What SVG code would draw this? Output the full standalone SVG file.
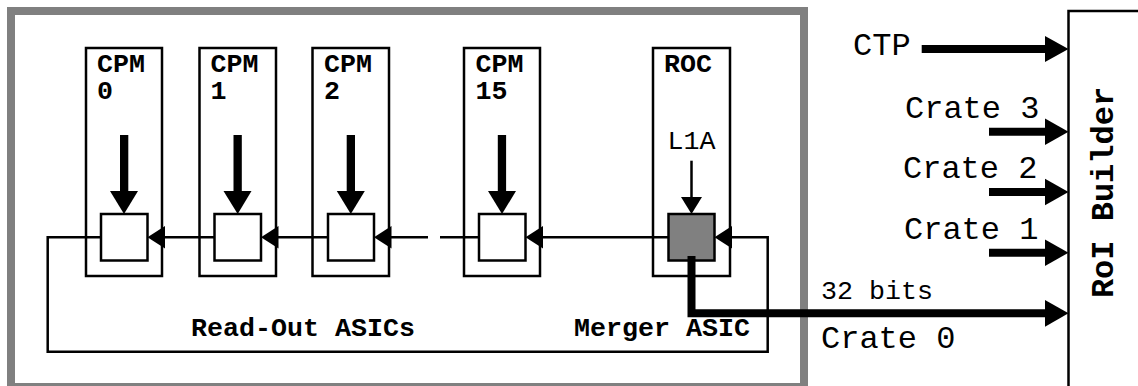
<svg xmlns="http://www.w3.org/2000/svg" width="1138" height="386" viewBox="0 0 1138 386">
<style>
text{font-family:"Liberation Mono","Courier New",monospace;fill:#000}
.b{font-weight:bold;font-size:26.67px}
.r{font-size:26.67px}
.L{font-size:32px}
.box{fill:#fff;stroke:#000;stroke-width:2.5}
.ln{fill:none;stroke:#000;stroke-width:2.5}
.th{fill:none;stroke:#000;stroke-width:8}
.hd{fill:#000;stroke:none}
</style>
<rect width="1138" height="386" fill="#fff"/>
<g id="frame"><rect x="11" y="11" width="793" height="376" fill="none" stroke="#808080" stroke-width="8"/></g>
<g id="cpm0"><rect class="box" x="86" y="48" width="76" height="228"/><text class="b" x="97" y="72">CPM</text><text class="b" x="97" y="99">0</text><rect class="box" x="101" y="214" width="46.5" height="46.5"/></g>
<g id="cpm1"><rect class="box" x="199.5" y="48" width="76.5" height="228"/><text class="b" x="210.5" y="72">CPM</text><text class="b" x="210.5" y="99">1</text><rect class="box" x="214.5" y="214" width="46.5" height="46.5"/></g>
<g id="cpm2"><rect class="box" x="312.5" y="48" width="76.5" height="228"/><text class="b" x="324" y="72">CPM</text><text class="b" x="324" y="99">2</text><rect class="box" x="328" y="214" width="46" height="46.5"/></g>
<g id="cpm15"><rect class="box" x="464" y="48" width="76" height="228"/><text class="b" x="475.5" y="72">CPM</text><text class="b" x="475.5" y="99">15</text><rect class="box" x="479" y="214" width="46.5" height="46.5"/></g>
<g id="roc"><rect class="box" x="653" y="48" width="77" height="228"/><text class="b" x="664" y="72">ROC</text><text class="r" x="667.5" y="148.5">L1A</text><rect x="668.5" y="214" width="46" height="46.5" fill="#808080" stroke="#000" stroke-width="2.5"/></g>
<g id="roi-builder"><rect class="box" x="1068.5" y="11" width="100" height="400"/><text class="L" font-weight="bold" text-anchor="middle" transform="translate(1113,192.5) rotate(-90)">RoI Builder</text></g>
<g id="labels">
<text class="b" x="191" y="336">Read-Out ASICs</text>
<text class="b" x="574" y="336">Merger ASIC</text>
<text class="L" x="853" y="55">CTP</text>
<text class="L" x="905" y="118">Crate 3</text>
<text class="L" x="903" y="178">Crate 2</text>
<text class="L" x="904" y="239">Crate 1</text>
<text class="r" x="821" y="299">32 bits</text>
<text class="L" x="821" y="348">Crate 0</text>
</g>
<g id="connectors">
<polyline class="ln" points="101,237.3 47.7,237.3 47.7,351.7 767.7,351.7 767.7,237.3 731,237.3"/>
<line class="ln" x1="160" y1="237.3" x2="214.5" y2="237.3"/>
<line class="ln" x1="273" y1="237.3" x2="328" y2="237.3"/>
<line class="ln" x1="387" y1="237.3" x2="428" y2="237.3"/>
<line class="ln" x1="440" y1="237.3" x2="479" y2="237.3"/>
<line class="ln" x1="538" y1="237.3" x2="668.5" y2="237.3"/>
<polygon class="hd" points="147.5,237.3 165,226 165,248.5"/>
<polygon class="hd" points="261,237.3 278.5,226 278.5,248.5"/>
<polygon class="hd" points="374,237.3 391.5,226 391.5,248.5"/>
<polygon class="hd" points="525.5,237.3 543,226 543,248.5"/>
<polygon class="hd" points="714.5,237.3 732,226 732,248.5"/>
<g id="input-arrows">
<rect class="hd" x="120" y="135" width="8.3" height="57"/><polygon class="hd" points="110,191 138,191 124,214"/>
<rect class="hd" x="233.5" y="135" width="8.3" height="57"/><polygon class="hd" points="223.5,191 251.5,191 237.7,214"/>
<rect class="hd" x="346.7" y="135" width="8.3" height="57"/><polygon class="hd" points="336.8,191 364.8,191 350.8,214"/>
<rect class="hd" x="497.8" y="135" width="8.3" height="57"/><polygon class="hd" points="488,191 516,191 502,214"/>
<line class="ln" x1="691.5" y1="160.7" x2="691.5" y2="199"/><polygon class="hd" points="681,197 702,197 691.5,214"/>
</g>
<path class="th" d="M691.5,256 V313.3 H1047" stroke-linejoin="miter"/>
<polygon class="hd" points="1045,300 1068.5,313.3 1045,326.7"/>
<line class="th" x1="921.7" y1="49" x2="1047" y2="49"/><polygon class="hd" points="1045,36 1068.5,49 1045,62"/>
<line class="th" x1="989" y1="131.7" x2="1047" y2="131.7"/><polygon class="hd" points="1045,118.5 1068.5,131.7 1045,145"/>
<line class="th" x1="989" y1="192" x2="1047" y2="192"/><polygon class="hd" points="1045,178.8 1068.5,192 1045,205.2"/>
<line class="th" x1="989" y1="252.7" x2="1047" y2="252.7"/><polygon class="hd" points="1045,239.5 1068.5,252.7 1045,266"/>
</g>
</svg>
